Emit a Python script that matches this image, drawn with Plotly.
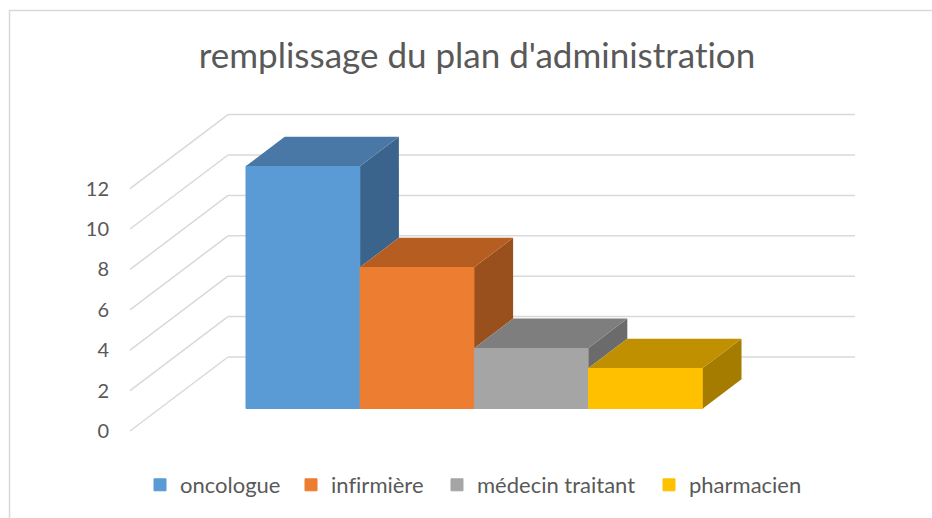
import plotly.graph_objects as go

CATEGORIES = ['oncologue', 'infirmière', 'médecin traitant', 'pharmacien']
VALUES = [12, 7, 3, 2]
FRONT_COLOURS = ['#5b9bd5', '#ed7d31', '#a5a5a5', '#ffc000']
TOP_COLOURS = ['#4a78a6', '#b65d22', '#7e7e7e', '#c09000']
SIDE_COLOURS = ['#3a648c', '#99501c', '#6b6b6b', '#a57c00']
TICKS = [0, 2, 4, 6, 8, 10, 12]
LEGEND_LEFT_PX = [140, 291, 437, 649]

TEXT_COLOUR = '#595959'
GRID_COLOUR = '#d9d9d9'
FONT = 'Lato'

WIDTH, HEIGHT = 932, 518
PX_PER_UNIT = 20.2
ZERO_PX = 431

# oblique projection, x in pixels and depth offsets in value units
WALL_LEFT, WALL_RIGHT = 130, 855
WALL_DX, WALL_DY = 98, 74 / PX_PER_UNIT
BAR_LEFT, BAR_WIDTH = 246, 114.2
BAR_DX, BAR_DY = 38.7, 29.3 / PX_PER_UNIT
BAR_FLOOR = (ZERO_PX - 408.5) / PX_PER_UNIT
AXIS_LEFT = 110

fig = go.Figure()

shapes = []
for tick in TICKS:
    wall_x = WALL_LEFT + WALL_DX
    wall_y = tick + WALL_DY
    for x0, y0, x1, y1 in [
        (WALL_LEFT, tick, wall_x, wall_y),
        (wall_x, wall_y, WALL_RIGHT, wall_y),
    ]:
        shapes.append(dict(
            type='line', layer='below', x0=x0, y0=y0, x1=x1, y1=y1,
            line=dict(color=GRID_COLOUR, width=1.5),
        ))

# chart frame, only top and left are visible in the screenshot
shapes.append(dict(
    type='path', xref='paper', yref='paper', layer='below',
    path=f'M {9.5 / WIDTH} 0 L {9.5 / WIDTH} {1 - 10.5 / HEIGHT} L 1 {1 - 10.5 / HEIGHT}',
    line=dict(color=GRID_COLOUR, width=1.5),
))

legends = {}
for i, (name, value) in enumerate(zip(CATEGORIES, VALUES)):
    left = BAR_LEFT + i * BAR_WIDTH
    right = left + BAR_WIDTH
    top = BAR_FLOOR + value
    next_value = VALUES[i + 1] if i + 1 < len(VALUES) else 0
    visible_bottom = BAR_FLOOR + next_value

    # each entry has its own legend so the gaps can follow the reference
    legend_id = 'legend' if i == 0 else f'legend{i + 1}'
    legends[legend_id] = dict(
        orientation='h',
        x=LEGEND_LEFT_PX[i] / WIDTH,
        xanchor='left',
        y=1 - 485 / HEIGHT,
        yanchor='middle',
        font=dict(family=FONT, size=22, color=TEXT_COLOUR),
        itemclick=False,
        itemdoubleclick=False,
        bgcolor='rgba(0,0,0,0)',
    )

    fig.add_trace(go.Bar(
        x=[left + BAR_WIDTH / 2],
        y=[value],
        base=BAR_FLOOR,
        width=BAR_WIDTH,
        name=name,
        marker=dict(color=FRONT_COLOURS[i], line=dict(width=1, color=FRONT_COLOURS[i])),
        legend=legend_id,
        showlegend=True,
    ))
    fig.add_trace(go.Scatter(
        x=[right, right + BAR_DX, right + BAR_DX, right, right],
        y=[visible_bottom, visible_bottom + BAR_DY, top + BAR_DY, top, visible_bottom],
        mode='lines',
        fill='toself',
        fillcolor=SIDE_COLOURS[i],
        line=dict(width=0),
        showlegend=False,
        hoverinfo='skip',
    ))
    fig.add_trace(go.Scatter(
        x=[left, right, right + BAR_DX, left + BAR_DX, left],
        y=[top, top, top + BAR_DY, top + BAR_DY, top],
        mode='lines',
        fill='toself',
        fillcolor=TOP_COLOURS[i],
        line=dict(width=0),
        showlegend=False,
        hoverinfo='skip',
    ))

fig.update_layout(
    width=WIDTH,
    height=HEIGHT,
    margin=dict(l=0, r=0, t=0, b=0),
    paper_bgcolor='white',
    plot_bgcolor='rgba(0,0,0,0)',
    barmode='overlay',
    shapes=shapes,
    font=dict(family=FONT, color=TEXT_COLOUR),
    title=dict(
        text="remplissage du plan d'administration",
        x=477 / WIDTH,
        xanchor='center',
        y=1 - 56 / HEIGHT,
        yanchor='middle',
        font=dict(family=FONT, size=35, color=TEXT_COLOUR),
    ),
    xaxis=dict(
        domain=[AXIS_LEFT / WIDTH, 1],
        range=[AXIS_LEFT, WIDTH],
        visible=False,
    ),
    yaxis=dict(
        range=[(ZERO_PX - HEIGHT) / PX_PER_UNIT, ZERO_PX / PX_PER_UNIT],
        tickvals=TICKS,
        ticks='',
        showgrid=False,
        zeroline=False,
        showline=False,
        tickfont=dict(family=FONT, size=20, color=TEXT_COLOUR),
    ),
    **legends,
)

fig.write_html(
    'out.html',
    config={'displayModeBar': False},
    post_script="document.body.style.margin='0';document.body.style.fontFeatureSettings='\"liga\" 0';",
)
